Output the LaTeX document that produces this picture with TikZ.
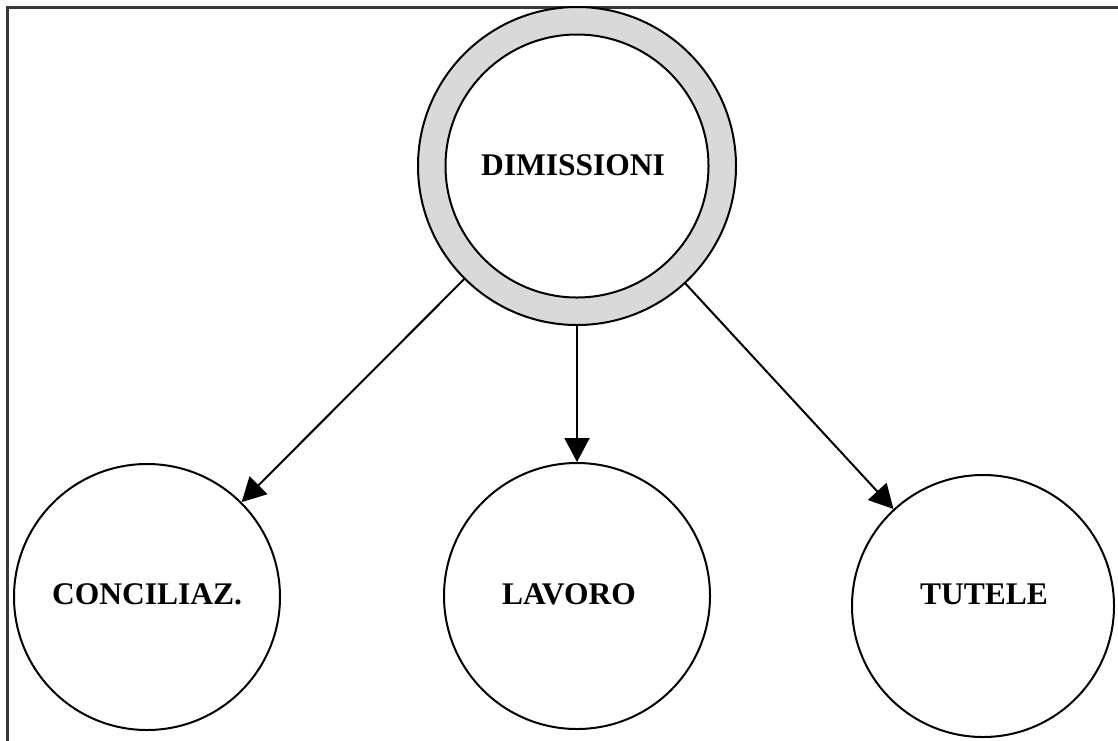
\documentclass[tikz,border=0pt]{standalone}
\usepackage{fontspec}
\setmainfont{Liberation Serif}
\usetikzlibrary{arrows.meta}
\definecolor{ringgray}{HTML}{D9D9D9}
\definecolor{framegray}{HTML}{383838}
\tikzset{
  bubble/.style={circle, draw=black, line width=2pt, fill=white, inner sep=0pt},
  lbl/.style={anchor=base, inner sep=0pt, font=\fontsize{31.5}{36}\selectfont\bfseries},
  conn/.style={line width=2pt, -{Triangle[length=24pt, width=25pt]}, shorten <=-1pt}
}
\begin{document}
\begin{tikzpicture}[x=1pt, y=-1pt]
\useasboundingbox (0,0) rectangle (1118,740);
\draw[framegray, line width=3pt] (7.5,742) -- (7.5,7.5) -- (1120,7.5);
\node[bubble, fill=ringgray, minimum size=318pt] (dimout) at (577,166) {};
\node[bubble, minimum size=263pt] (dim) at (577,166) {};
\node[lbl] (dimt) at (573,175) {DIMISSIONI};
\node[bubble, minimum size=266pt] (conc) at (147,597) {};
\node[lbl] (conct) at (147,604) {CONCILIAZ.};
\node[bubble, minimum size=266pt] (lav) at (577,596) {};
\node[lbl] (lavt) at (569,604) {LAVORO};
\node[bubble, minimum size=262pt] (tut) at (983,606) {};
\node[lbl] (tutt) at (984,604) {TUTELE};
\draw[conn] (dimout) -- (conc);
\draw[conn] (dimout) -- (lav);
\draw[conn] (dimout) -- (tut);
\end{tikzpicture}
\end{document}
